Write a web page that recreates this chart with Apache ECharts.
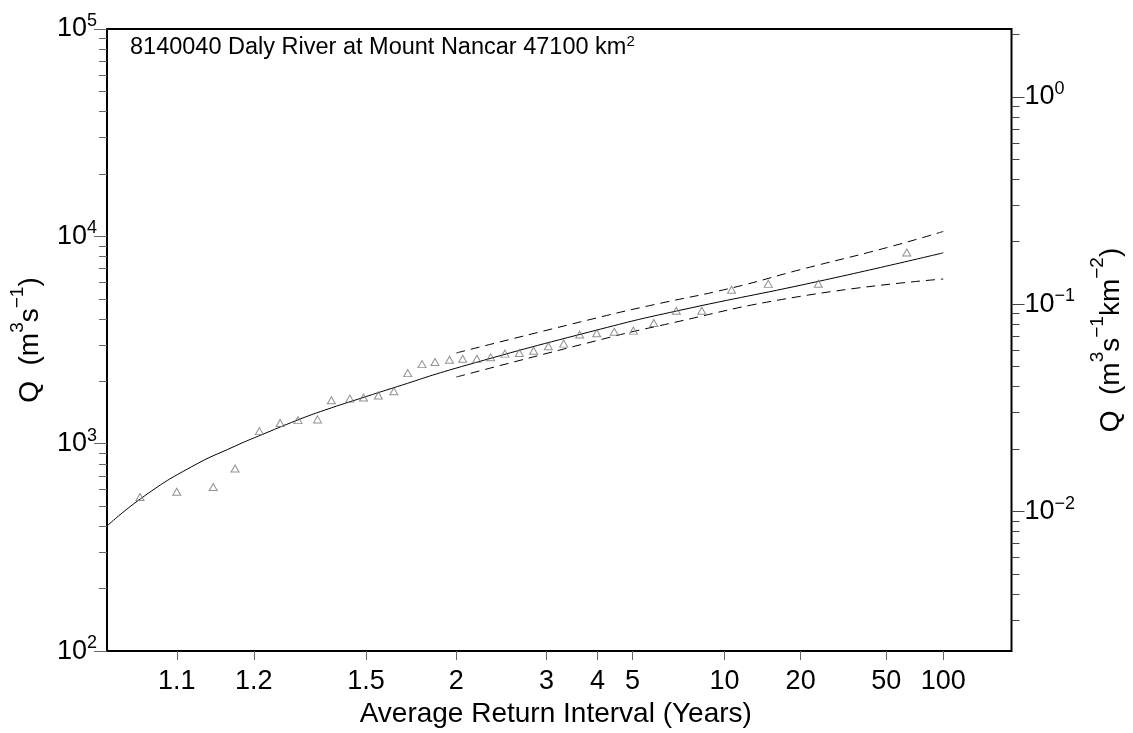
<!DOCTYPE html>
<html>
<head>
<meta charset="utf-8">
<script src="https://cdn.jsdelivr.net/npm/echarts@6/dist/echarts.min.js"></script>
<style>html,body{margin:0;padding:0;background:#fff}#chart{width:1133px;height:733px}</style>
</head>
<body>
<div id="chart"></div>
<script>
// ---------------- data ----------------
const catchmentArea = 47100; // km2
const stationTitle = '8140040 Daly River at Mount Nancar 47100 km';
const xTickARI = [1.1, 1.2, 1.5, 2, 3, 4, 5, 10, 20, 50, 100];
const xMinARI = 1.05, xMaxARI = 250;
const yMinQ = 100, yMaxQ = 100000;
const leftMajorTicks = [100, 1000, 10000, 100000];
const leftMinorTicks = [200,300,400,500,600,700,800,900,2000,3000,4000,5000,6000,7000,8000,9000,20000,30000,40000,50000,60000,70000,80000,90000];
const rightMajorTicks = [0.01, 0.1, 1];
const rightMinorTicks = [0.003,0.004,0.005,0.006,0.007,0.008,0.009,0.02,0.03,0.04,0.05,0.06,0.07,0.08,0.09,0.2,0.3,0.4,0.5,0.6,0.7,0.8,0.9,2];

// observed annual maxima (ARI plotting position, Q m3/s)
const obsARI = [63.67, 23.88, 14.69, 10.61, 8.30, 6.82, 5.79, 5.03, 4.44, 3.98, 3.60, 3.29, 3.03, 2.81, 2.62, 2.45, 2.30, 2.17, 2.05, 1.95, 1.85, 1.77, 1.69, 1.62, 1.55, 1.49, 1.44, 1.38, 1.34, 1.29, 1.25, 1.21, 1.17, 1.14, 1.10, 1.07];
const obsQ   = [8360, 5910, 5900, 5530, 4380, 4380, 3820, 3510, 3470, 3410, 3360, 3040, 2950, 2810, 2740, 2720, 2610, 2570, 2570, 2540, 2480, 2420, 2190, 1790, 1710, 1670, 1650, 1620, 1310, 1300, 1260, 1150, 760, 618, 587, 553];

// fitted frequency curve
const fitARI = [1.05, 1.073, 1.115, 1.17, 1.208, 1.29, 1.36, 1.494, 1.607, 2.04, 4.08, 6.83, 23.9, 100];
const fitQ   = [401, 559, 775, 974, 1088, 1303, 1452, 1679, 1845, 2355, 3573, 4365, 6067, 8330];

// confidence limits
const upperARI = [2, 4.08, 5.8, 10.6, 20, 50, 100];
const upperQ   = [2740, 4088, 4685, 5637, 6918, 8810, 10560];
const lowerARI = [2, 4.08, 5.8, 19.9, 100];
const lowerQ   = [2097, 3178, 3660, 5136, 6229];

// ---------------- normal probability scale ----------------
function probit(p) {
  const a=[-3.969683028665376e+01,2.209460984245205e+02,-2.759285104469687e+02,1.383577518672690e+02,-3.066479806614716e+01,2.506628277459239e+00];
  const b=[-5.447609879822406e+01,1.615858368580409e+02,-1.556989798598866e+02,6.680131188771972e+01,-1.328068155288572e+01];
  const c=[-7.784894002430293e-03,-3.223964580411365e-01,-2.400758277161838e+00,-2.549671010319524e+00,4.374664141464968e+00,2.938163982698783e+00];
  const d=[7.784695709041462e-03,3.224671290700398e-01,2.445134137142996e+00,3.754408661907416e+00];
  const pl = 0.02425, ph = 1 - pl; let q, r;
  if (p < pl) { q = Math.sqrt(-2*Math.log(p)); return (((((c[0]*q+c[1])*q+c[2])*q+c[3])*q+c[4])*q+c[5])/((((d[0]*q+d[1])*q+d[2])*q+d[3])*q+1); }
  if (p <= ph) { q = p - 0.5; r = q*q; return (((((a[0]*r+a[1])*r+a[2])*r+a[3])*r+a[4])*r+a[5])*q/(((((b[0]*r+b[1])*r+b[2])*r+b[3])*r+b[4])*r+1); }
  q = Math.sqrt(-2*Math.log(1-p)); return -(((((c[0]*q+c[1])*q+c[2])*q+c[3])*q+c[4])*q+c[5])/((((d[0]*q+d[1])*q+d[2])*q+d[3])*q+1);
}
const ariToZ = T => probit(1 - 1 / T);
const pairs = (xs, ys) => xs.map((t, i) => [ariToZ(t), ys[i]]);
const xTickZ = xTickARI.map(ariToZ);
function xLabel(v) {
  let best = 0;
  xTickZ.forEach((z, i) => { if (Math.abs(z - v) < Math.abs(xTickZ[best] - v)) best = i; });
  return String(xTickARI[best]);
}
function powLabel(v) {
  const e = Math.round(Math.log10(v));
  return '{b|10}{s|' + (e < 0 ? '\u2212' + (-e) : e) + '}';
}

const FONT = 'Liberation Sans, Arial, Helvetica, sans-serif';
const tickRich = {
  b: { fontSize: 27, color: '#000', fontFamily: FONT },
  s: { fontSize: 18, color: '#000', fontFamily: FONT, padding: [0, 0, 16, 0] }
};
const titleRich = {
  b: { fontSize: 28, color: '#000', fontFamily: FONT },
  s: { fontSize: 19, color: '#000', fontFamily: FONT, padding: [0, 0, 26, 0] }
};

function logAxis(opts) {
  return Object.assign({
    type: 'log', logBase: 10,
    axisLine: { show: false, onZero: false },
    splitLine: { show: false },
    minorTick: { show: false },
    minorSplitLine: { show: false }
  }, opts);
}

const chart = echarts.init(document.getElementById('chart'), null, { renderer: 'canvas' });
chart.setOption({
  animation: false,
  textStyle: { fontFamily: FONT },
  title: {
    text: '{b|' + stationTitle + '}{s|2}',
    left: 130, top: 34, padding: 0,
    textStyle: { fontWeight: 'normal', rich: {
      b: { fontSize: 23.5, color: '#000', fontFamily: FONT, fontWeight: 'normal' },
      s: { fontSize: 15, color: '#000', fontFamily: FONT, fontWeight: 'normal', padding: [0, 0, 13, 0] }
    } }
  },
  grid: { left: 105, right: 121, top: 29, bottom: 81, show: true, borderColor: '#000', borderWidth: 2, backgroundColor: 'transparent' },
  xAxis: {
    type: 'value', min: ariToZ(xMinARI), max: ariToZ(xMaxARI),
    axisLine: { show: false, onZero: false }, splitLine: { show: false },
    axisTick: { show: true, customValues: xTickZ, length: 9, lineStyle: { color: '#666', width: 1 } },
    axisLabel: { customValues: xTickZ, formatter: xLabel, fontSize: 27, color: '#000', margin: 17, fontFamily: FONT },
    name: 'Average Return Interval (Years)', nameLocation: 'middle', nameGap: 46,
    nameTextStyle: { fontSize: 28, color: '#000', fontFamily: FONT, padding: [0, 7, 0, 0] }
  },
  yAxis: [
    logAxis({
      position: 'left', min: yMinQ, max: yMaxQ,
      axisTick: { show: true, customValues: leftMajorTicks, length: 13, lineStyle: { color: '#666', width: 1 } },
      axisLabel: { customValues: leftMajorTicks, formatter: powLabel, rich: tickRich, margin: 10 },
      name: '{b|Q  (m}{s|3}{b|s}{s|\u22121}{b|)}', nameLocation: 'middle', nameGap: 54,
      nameTextStyle: { rich: titleRich }
    }),
    logAxis({
      position: 'right', min: yMinQ / catchmentArea, max: yMaxQ / catchmentArea,
      axisTick: { show: true, customValues: rightMajorTicks, length: 13, lineStyle: { color: '#444', width: 1 } },
      axisLabel: { customValues: rightMajorTicks, formatter: powLabel, rich: tickRich, margin: 13 },
      name: '{b|Q  (m}{s|3}{b|s}{s|\u22121}{b|km}{s|\u22122}{b|)}', nameLocation: 'middle', nameGap: 77,
      nameTextStyle: { rich: titleRich }
    }),
    logAxis({
      position: 'left', min: yMinQ, max: yMaxQ,
      axisTick: { show: true, customValues: leftMinorTicks, length: 8, lineStyle: { color: '#666', width: 1 } },
      axisLabel: { show: false }
    }),
    logAxis({
      position: 'right', min: yMinQ / catchmentArea, max: yMaxQ / catchmentArea,
      axisTick: { show: true, customValues: rightMinorTicks, length: 8, lineStyle: { color: '#444', width: 1 } },
      axisLabel: { show: false }
    })
  ],
  series: [
    {
      type: 'line', name: 'fit', data: pairs(fitARI, fitQ), yAxisIndex: 0,
      showSymbol: false, smooth: 0.5, silent: true,
      lineStyle: { color: '#000', width: 1 }, z: 3
    },
    {
      type: 'line', name: 'upper', data: pairs(upperARI, upperQ), yAxisIndex: 0,
      showSymbol: false, smooth: 0.5, silent: true,
      lineStyle: { color: '#000', width: 1, type: [9, 6] }, z: 3
    },
    {
      type: 'line', name: 'lower', data: pairs(lowerARI, lowerQ), yAxisIndex: 0,
      showSymbol: false, smooth: 0.5, silent: true,
      lineStyle: { color: '#000', width: 1, type: [9, 6] }, z: 3
    },
    {
      type: 'scatter', name: 'observed', data: pairs(obsARI, obsQ), yAxisIndex: 0,
      symbol: 'triangle', symbolSize: [8, 7], silent: true,
      itemStyle: { color: 'rgba(255,255,255,0)', borderColor: '#777', borderWidth: 1 }, z: 4
    }
  ]
});
</script>
</body>
</html>
